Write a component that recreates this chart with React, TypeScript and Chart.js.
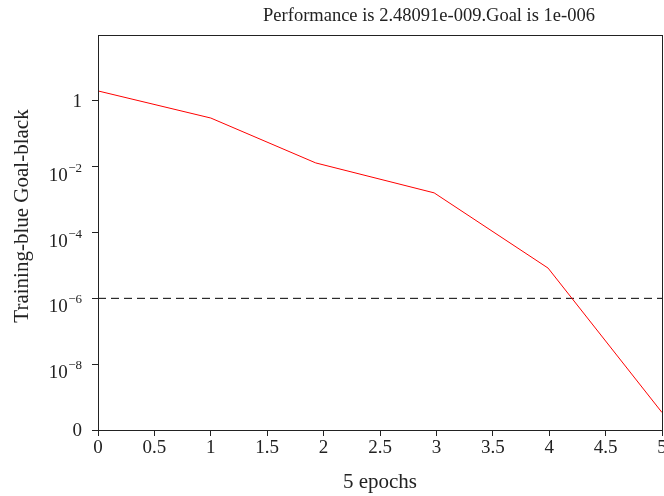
import React, { useEffect, useRef } from 'react';
import { Chart, registerables } from 'chart.js';

Chart.register(...registerables);

const epochs = [0, 1, 1.93, 2.98, 3.99, 5];
const performance = [2.0, 0.3, 0.013, 1.6e-3, 8.3e-6, 3.4e-10];
const goalEpochs = [0, 5];
const goalValues = [1e-6, 1e-6];
const yTickValues = [1e-10, 1e-8, 1e-6, 1e-4, 1e-2, 1];
const yTickBase = ['0', '10', '10', '10', '10', '1'];
const yTickExp = ['', '−8', '−6', '−4', '−2', ''];
const xTickValues = [0, 0.5, 1, 1.5, 2, 2.5, 3, 3.5, 4, 4.5, 5];
const xTickLabels = ['0', '0.5', '1', '1.5', '2', '2.5', '3', '3.5', '4', '4.5', '5'];
const titleText = 'Performance is 2.48091e-009.Goal is 1e-006';
const xTitle = '5 epochs';
const yTitle = 'Training-blue Goal-black';

const FONT = "'Liberation Serif', 'DejaVu Serif', serif";
const INK = '#222222';

export default function App() {
  const ref = useRef<HTMLCanvasElement | null>(null);

  useEffect(() => {
    document.body.style.margin = '0';
    const canvas = ref.current;
    if (!canvas) return;

    const textPlugin = {
      id: 'textPlugin',
      afterDraw(chart: any) {
        const { ctx, chartArea } = chart;
        const yScale = chart.scales.y;
        ctx.save();
        // frame
        ctx.strokeStyle = INK;
        ctx.lineWidth = 1;
        ctx.strokeRect(
          Math.round(chartArea.left) + 0.5,
          Math.round(chartArea.top) + 0.5,
          Math.round(chartArea.right - chartArea.left),
          Math.round(chartArea.bottom - chartArea.top)
        );
        ctx.fillStyle = INK;

        // y tick labels with superscript exponents
        const rightX = 82;
        yTickValues.forEach((v, i) => {
          const py = yScale.getPixelForValue(v);
          ctx.textAlign = 'right';
          if (yTickExp[i]) {
            ctx.font = `13px ${FONT}`;
            ctx.textBaseline = 'alphabetic';
            const ew = ctx.measureText(yTickExp[i]).width;
            ctx.fillText(yTickExp[i], rightX, py + 5);
            ctx.font = `19px ${FONT}`;
            ctx.fillText(yTickBase[i], rightX - ew - 0.5, py + 14);
          } else {
            ctx.font = `19px ${FONT}`;
            ctx.textBaseline = 'middle';
            ctx.fillText(yTickBase[i], rightX, py + 1);
          }
        });

        ctx.textAlign = 'center';
        ctx.textBaseline = 'middle';
        ctx.font = `18.5px ${FONT}`;
        ctx.fillText(titleText, 429, 16);
        ctx.font = `21px ${FONT}`;
        ctx.fillText(xTitle, (chartArea.left + chartArea.right) / 2, 482);
        ctx.translate(22, 216);
        ctx.rotate(-Math.PI / 2);
        ctx.fillText(yTitle, 0, 0);
        ctx.restore();
      },
    };

    const chart = new Chart(canvas, {
      type: 'line',
      data: {
        datasets: [
          {
            label: 'Training',
            data: epochs.map((x, i) => ({ x, y: performance[i] })),
            borderColor: '#ff0000',
            borderWidth: 1,
            pointRadius: 0,
            fill: false,
            tension: 0,
          },
          {
            label: 'Goal',
            data: goalEpochs.map((x, i) => ({ x, y: goalValues[i] })),
            borderColor: '#000000',
            borderWidth: 1,
            borderDash: [8, 5],
            pointRadius: 0,
            fill: false,
          },
        ],
      },
      options: {
        responsive: false,
        animation: false,
        layout: { padding: { left: 0, top: 35, right: 18, bottom: 0 } },
        plugins: {
          legend: { display: false },
          title: { display: false },
          tooltip: { enabled: false },
        },
        scales: {
          x: {
            type: 'linear',
            min: 0,
            max: 5,
            afterBuildTicks: (scale: any) => {
              scale.ticks = xTickValues.map((v) => ({ value: v }));
            },
            afterFit: (scale: any) => {
              scale.height = 66;
            },
            ticks: {
              color: INK,
              font: { family: FONT, size: 19 },
              padding: 1,
              maxRotation: 0,
              autoSkip: false,
              callback: (_v: any, i: number) => xTickLabels[i],
            },
            grid: {
              display: true,
              drawOnChartArea: false,
              drawTicks: true,
              tickLength: 6,
              color: INK,
              tickColor: INK,
            },
            border: { display: true, color: INK },
          },
          y: {
            type: 'logarithmic',
            min: 1e-10,
            max: 1e2,
            afterBuildTicks: (scale: any) => {
              scale.ticks = yTickValues.map((v) => ({ value: v }));
            },
            afterFit: (scale: any) => {
              scale.width = 98;
            },
            ticks: {
              display: false,
              autoSkip: false,
              callback: (_v: any, i: number) => yTickBase[i] + yTickExp[i],
            },
            grid: {
              display: true,
              drawOnChartArea: false,
              drawTicks: true,
              tickLength: 6,
              color: INK,
              tickColor: INK,
            },
            border: { display: true, color: INK },
          },
        },
      },
      plugins: [textPlugin],
    } as any);

    return () => {
      chart.destroy();
    };
  }, []);

  return (
    <div style={{ width: 664, height: 496, overflow: 'hidden', position: 'relative' }}>
      <canvas ref={ref} width={680} height={496} style={{ display: 'block' }} />
    </div>
  );
}
